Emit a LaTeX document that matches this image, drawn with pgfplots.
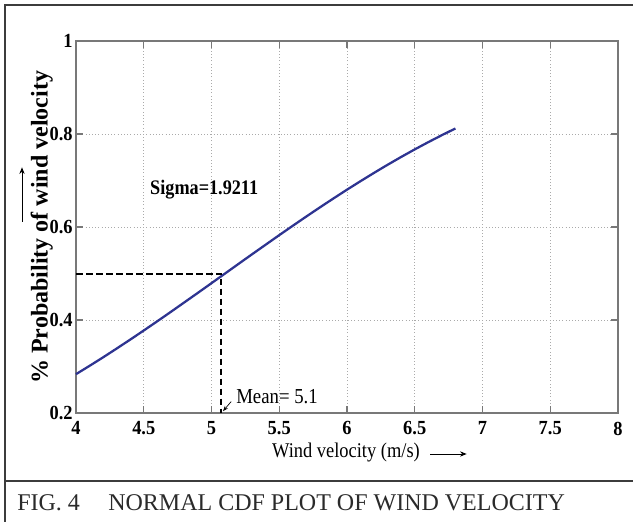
\documentclass[border=0pt]{standalone}
\usepackage{fontspec}
\setmainfont{Liberation Serif}
\newfontfamily\condfont[FakeStretch=0.88]{Liberation Serif}
\newfontfamily\tickfont[FakeStretch=0.92]{Liberation Serif}
\usepackage{pgfplots}
\pgfplotsset{compat=1.18}
\usetikzlibrary{arrows.meta}
\definecolor{curveblue}{RGB}{46,52,145}
\definecolor{axgray}{RGB}{120,120,120}
\definecolor{gridgray}{RGB}{170,170,170}
\definecolor{boxgray}{RGB}{60,60,60}
\begin{document}
\begin{tikzpicture}
\useasboundingbox (0,0) rectangle (474.75pt,391.5pt);
% outer frame
\draw[boxgray, line width=1.1pt] (3.75pt,0) -- (3.75pt,387.75pt) -- (474.75pt,387.75pt);
\draw[boxgray, line width=1.1pt] (3.75pt,30.75pt) -- (474.75pt,30.75pt);
\node[anchor=base west, inner sep=0pt, font=\fontsize{18}{19}\selectfont, text=boxgray!70!black] at (12.75pt,9pt) {FIG. 4};
\node[anchor=base west, inner sep=0pt, font=\fontsize{18}{19}\selectfont, text=boxgray!70!black] at (81pt,9pt) {NORMAL CDF PLOT OF WIND VELOCITY};
% axis labels
\node[inner sep=0pt, font=\condfont\fontsize{15.7}{17}\selectfont] at (259.5pt,52.5pt) {Wind velocity (m/s)};
\draw[-{Stealth[length=5pt,width=4pt]}, line width=0.7pt] (322.5pt,51pt) -- (350pt,51pt);
\node[rotate=90, anchor=base, inner sep=0pt, font=\bfseries\fontsize{18}{19}\selectfont] at (35.8pt,221pt) {\% Probability of wind velocity};
\draw[-{Stealth[length=5pt,width=4pt]}, line width=0.7pt] (16.5pt,225pt) -- (16.5pt,266pt);
\begin{axis}[
  at={(57pt,81.75pt)}, anchor=south west,
  scale only axis, width=406.5pt, height=279pt,
  xmin=4, xmax=8, ymin=0.2, ymax=1,
  xtick={4,4.5,...,8}, ytick={0.2,0.4,0.6,0.8,1},
  xticklabels={4,4.5,5,5.5,6,6.5,7,7.5,8},
  yticklabels={0.2,0.4,0.6,0.8,1},
  grid=major,
  major grid style={gridgray, dotted, line width=0.7pt},
  axis line style={axgray, line width=1pt},
  tick style={axgray, line width=0.8pt},
  tick align=inside, major tick length=5pt,
  ticklabel style={font=\tickfont\bfseries\fontsize{15}{16}\selectfont},
  xticklabel style={yshift=-3pt},
  yticklabel style={xshift=1pt},
  clip=false,
]
\addplot[curveblue, line width=1.7pt] coordinates {
(4.0,0.2835) (4.1,0.3014) (4.2,0.3197) (4.3,0.3386) (4.4,0.3578)
(4.5,0.3774) (4.6,0.3973) (4.7,0.4175) (4.8,0.4380) (4.9,0.4585)
(5.0,0.4792) (5.1,0.5000) (5.2,0.5208) (5.3,0.5415) (5.4,0.5620)
(5.5,0.5825) (5.6,0.6027) (5.7,0.6226) (5.8,0.6422) (5.9,0.6614)
(6.0,0.6803) (6.1,0.6986) (6.2,0.7165) (6.3,0.7339) (6.4,0.7507)
(6.5,0.7669) (6.6,0.7825) (6.7,0.7975) (6.8,0.8119)
};
\addplot[black, line width=1.5pt, dash pattern=on 5pt off 2.5pt] coordinates {(4,0.5) (5.07,0.5) (5.07,0.2)};
\node[anchor=base west, inner sep=0pt, font=\condfont\bfseries\fontsize{15.5}{16}\selectfont] at (axis cs:4.546,0.669) {Sigma=1.9211};
\node[anchor=base west, inner sep=0pt, font=\condfont\fontsize{16}{17}\selectfont] at (axis cs:5.181,0.2194) {Mean= 5.1};
\draw[-{Stealth[length=4pt,width=3pt]}, line width=0.5pt] (axis cs:5.145,0.2245) -- (axis cs:5.085,0.204);
\end{axis}
\end{tikzpicture}
\end{document}
